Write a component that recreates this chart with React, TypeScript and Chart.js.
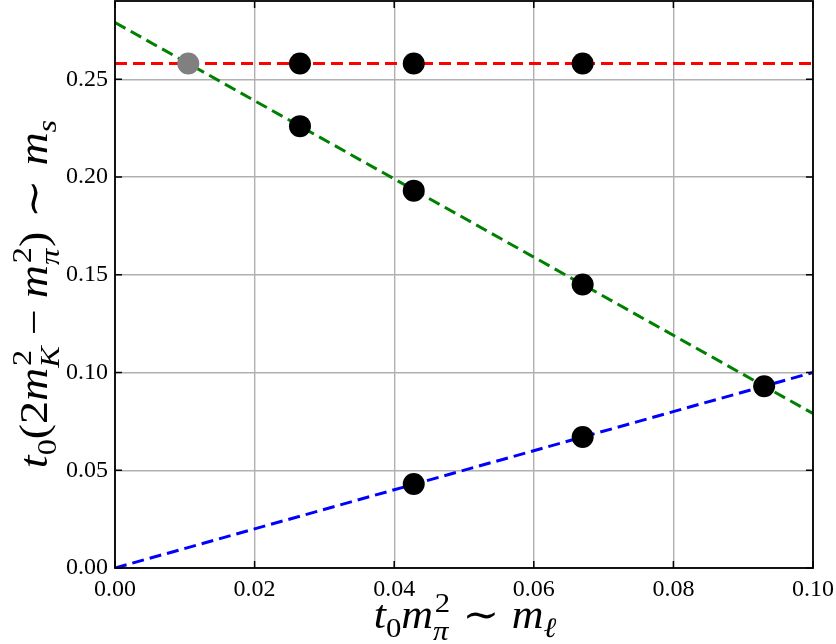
import { useEffect, useRef } from "react";
import { Chart, registerables } from "chart.js";

Chart.register(...registerables);

// Axis ranges and tick values
const X_MIN = 0;
const X_MAX = 0.1;
const Y_MIN = 0;
const Y_MAX = 0.29;
const X_STEP = 0.02;
const Y_STEP = 0.05;
const Y_LAST_TICK = 0.25;

// Fit lines (endpoints at the axis limits)
const strangeLineX = [0, 0.1];
const strangeLineY = [0.258, 0.258];
const symmetricLineX = [0, 0.1];
const symmetricLineY = [0.279, 0.079];
const lightLineX = [0, 0.1];
const lightLineY = [0, 0.1];

// Ensemble points
const ensembleX = [0.0265, 0.0428, 0.067, 0.0265, 0.0428, 0.067, 0.093, 0.0428, 0.067];
const ensembleY = [0.258, 0.258, 0.258, 0.226, 0.193, 0.145, 0.093, 0.043, 0.067];

// Physical point
const physicalX = [0.0105];
const physicalY = [0.258];

const toXY = (xs: number[], ys: number[]) => xs.map((x, i) => ({ x, y: ys[i] }));

type Piece = {
  t: string;
  it?: boolean;
  sup?: string;
  sub?: string;
  subIt?: boolean;
  pre?: number;
  post?: number;
};

const SERIF = '"Liberation Serif", "DejaVu Serif", serif';
const fontFor = (size: number, it: boolean) => `${it ? "italic " : ""}${size}px ${SERIF}`;

type Glyph = { text: string; font: string; x: number; dy: number };

function layoutMath(ctx: CanvasRenderingContext2D, pieces: Piece[], size: number) {
  let w = 0;
  const items: Glyph[] = [];
  const ss = size * 0.7;
  for (const p of pieces) {
    w += (p.pre || 0) * size;
    const f = fontFor(size, !!p.it);
    ctx.font = f;
    items.push({ text: p.t, font: f, x: w, dy: 0 });
    w += ctx.measureText(p.t).width;
    let sw = 0;
    if (p.sup) {
      const sf = fontFor(ss, false);
      ctx.font = sf;
      const off = size * 0.04;
      items.push({ text: p.sup, font: sf, x: w + off, dy: -size * 0.4 });
      sw = Math.max(sw, ctx.measureText(p.sup).width + off);
    }
    if (p.sub) {
      const sf = fontFor(ss, !!p.subIt);
      ctx.font = sf;
      items.push({ text: p.sub, font: sf, x: w, dy: p.sup ? size * 0.3 : size * 0.22 });
      sw = Math.max(sw, ctx.measureText(p.sub).width);
    }
    w += sw + (p.post || 0) * size;
  }
  return { w, items };
}

function drawMath(
  ctx: CanvasRenderingContext2D,
  pieces: Piece[],
  size: number,
  stretch: number,
  cx: number,
  baseline: number,
  rotate: boolean
) {
  ctx.save();
  ctx.fillStyle = "#000";
  ctx.textAlign = "left";
  ctx.textBaseline = "alphabetic";
  const { w, items } = layoutMath(ctx, pieces, size);
  if (rotate) {
    ctx.translate(baseline, cx);
    ctx.rotate(-Math.PI / 2);
  } else {
    ctx.translate(cx, baseline);
  }
  ctx.scale(stretch, 1);
  for (const g of items) {
    ctx.font = g.font;
    ctx.fillText(g.text, g.x - w / 2, g.dy);
  }
  ctx.restore();
}

const xTitle: Piece[] = [
  { t: "t", it: true, sub: "0" },
  { t: "m", it: true, sup: "2", sub: "π", subIt: true },
  { t: "∼", pre: 0.28, post: 0.28 },
  { t: "m", it: true, sub: "ℓ", subIt: true },
];

const yTitle: Piece[] = [
  { t: "t", it: true, sub: "0" },
  { t: "(2" },
  { t: "m", it: true, sup: "2", sub: "K", subIt: true },
  { t: "−", pre: 0.24, post: 0.24 },
  { t: "m", it: true, sup: "2", sub: "π", subIt: true },
  { t: ")" },
  { t: "∼", pre: 0.3, post: 0.3 },
  { t: "m", it: true, sub: "s", subIt: true },
];

const TITLE_SIZE = 40;

// Frame, inward ticks on all sides and the math axis titles
const framePlugin = {
  id: "frameAndTitles",
  afterDraw(chart: any) {
    const ctx: CanvasRenderingContext2D = chart.ctx;
    const { left, right, top, bottom } = chart.chartArea;
    const xs = chart.scales.x;
    const ys = chart.scales.y;
    const len = 7;
    ctx.save();
    ctx.strokeStyle = "#000";
    ctx.lineWidth = 1.5;
    ctx.beginPath();
    for (const t of xs.ticks) {
      const px = xs.getPixelForValue(t.value);
      ctx.moveTo(px, bottom);
      ctx.lineTo(px, bottom - len);
      ctx.moveTo(px, top);
      ctx.lineTo(px, top + len);
    }
    for (const t of ys.ticks) {
      const py = ys.getPixelForValue(t.value);
      ctx.moveTo(left, py);
      ctx.lineTo(left + len, py);
      ctx.moveTo(right, py);
      ctx.lineTo(right - len, py);
    }
    ctx.stroke();
    ctx.lineWidth = 1.8;
    ctx.strokeRect(left, top, right - left, bottom - top);
    ctx.restore();

    drawMath(ctx, xTitle, TITLE_SIZE, 1.1, 465, 628, false);
    drawMath(ctx, yTitle, TITLE_SIZE, 1.15, 294, 47, true);
  },
};

export default function App() {
  const canvasRef = useRef<HTMLCanvasElement | null>(null);

  useEffect(() => {
    document.body.style.margin = "0";
    const canvas = canvasRef.current;
    if (!canvas) return;

    const lineStyle = (color: string) => ({
      showLine: true,
      borderColor: color,
      backgroundColor: color,
      borderWidth: 3,
      borderDash: [12, 6],
      pointRadius: 0,
      pointHoverRadius: 0,
      fill: false,
      order: 1,
    });

    const chart = new Chart(canvas, {
      type: "scatter",
      data: {
        datasets: [
          {
            label: "ensembles",
            data: toXY(ensembleX, ensembleY),
            pointRadius: 11,
            pointBackgroundColor: "#000000",
            pointBorderWidth: 0,
            order: 0,
          },
          {
            label: "physical",
            data: toXY(physicalX, physicalY),
            pointRadius: 11,
            pointBackgroundColor: "#808080",
            pointBorderWidth: 0,
            order: 0,
          },
          { label: "strange", data: toXY(strangeLineX, strangeLineY), ...lineStyle("#ff0000") },
          { label: "symmetric", data: toXY(symmetricLineX, symmetricLineY), ...lineStyle("#008000") },
          { label: "light", data: toXY(lightLineX, lightLineY), ...lineStyle("#0000ff") },
        ] as any,
      },
      options: {
        responsive: false,
        animation: false,
        events: [],
        layout: { autoPadding: false, padding: { left: 0, right: 23, top: 1, bottom: 0 } },
        plugins: {
          legend: { display: false },
          tooltip: { enabled: false },
          title: { display: false },
        },
        scales: {
          x: {
            type: "linear",
            min: X_MIN,
            max: X_MAX,
            border: { display: false },
            grid: { color: "#b0b0b0", lineWidth: 1.4, drawTicks: false },
            ticks: {
              stepSize: X_STEP,
              padding: 7,
              color: "#000",
              font: { family: SERIF, size: 24 },
              callback: (v: any) => Number(v).toFixed(2),
            },
            afterFit: (scale: any) => {
              scale.height = 76;
              scale.paddingLeft = 0;
              scale.paddingRight = 0;
            },
          },
          y: {
            type: "linear",
            min: Y_MIN,
            max: Y_MAX,
            border: { display: false },
            grid: { color: "#b0b0b0", lineWidth: 1.4, drawTicks: false },
            ticks: {
              stepSize: Y_STEP,
              padding: 7,
              color: "#000",
              font: { family: SERIF, size: 24 },
              callback: (v: any) => Number(v).toFixed(2),
            },
            afterBuildTicks: (scale: any) => {
              scale.ticks = scale.ticks.filter(
                (t: any) =>
                  t.value <= Y_LAST_TICK + 1e-9 &&
                  Math.abs(t.value / Y_STEP - Math.round(t.value / Y_STEP)) < 1e-6
              );
            },
            afterFit: (scale: any) => {
              scale.width = 115;
              scale.paddingTop = 0;
              scale.paddingBottom = 0;
            },
          },
        },
      },
      plugins: [framePlugin],
    });

    return () => chart.destroy();
  }, []);

  return (
    <div style={{ width: 836, height: 644 }}>
      <canvas ref={canvasRef} width={836} height={644} />
    </div>
  );
}
